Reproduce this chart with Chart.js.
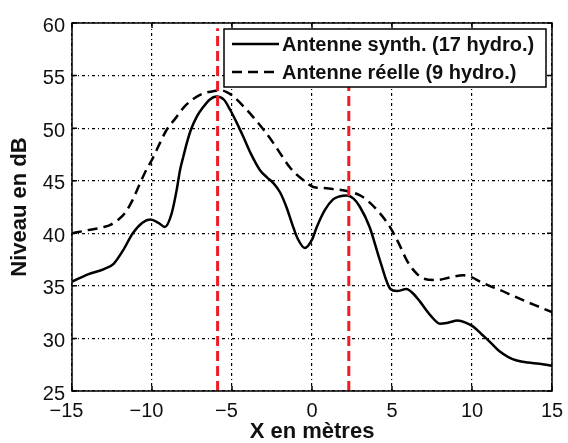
<!DOCTYPE html>
<html>
<head>
<meta charset="utf-8">
<script src="https://cdn.jsdelivr.net/npm/chart.js@4"></script>
<style>
  html, body { margin: 0; padding: 0; background: #fff; }
  #wrap { width: 568px; height: 443px; }
</style>
</head>
<body>
<div id="wrap"><canvas id="niveauChart" width="568" height="443"></canvas></div>
<script>
// Synthetic array (17 hydrophones)
const xSynth = [-15, -14, -13, -12.4, -11.8, -11.2, -10.6, -10.1, -9.6, -9.2, -8.77, -8.46, -8.25, -8.04, -7.83, -7.58, -7.2, -6.8, -6.4, -5.96,
  -5.5, -5.1, -4.7, -4.3, -3.8, -3.25, -2.8, -2.4, -2.0, -1.6, -1.2, -0.9, -0.45, 0, 0.3, 0.8, 1.3, 1.7, 2.17, 2.6, 3.0, 3.6,
  4.25, 4.9, 5.3, 5.9, 6.3, 6.75, 7.4, 8.0, 8.5, 9.1, 9.6, 10.1, 10.6, 11.1, 11.7, 12.3, 12.8, 13.5, 14.2, 15];
const ySynth = [35.4, 36.1, 36.6, 37.1, 38.4, 40.0, 41.0, 41.3, 41.0, 40.6, 41.9, 44.1, 46.0, 47.3, 48.55, 49.8, 51.1, 52.0, 52.7, 53.0,
  52.7, 51.7, 50.5, 49.2, 47.5, 46.0, 45.3, 44.75, 43.9, 42.5, 40.7, 39.5, 38.6, 39.4, 40.6, 42.2, 43.2, 43.5, 43.6, 43.3, 42.5, 40.6,
  37.4, 34.7, 34.5, 34.7, 34.3, 33.5, 32.2, 31.4, 31.5, 31.7, 31.5, 31.1, 30.4, 29.7, 28.8, 28.2, 27.9, 27.7, 27.6, 27.4];

// Real array (9 hydrophones)
const xReel = [-15, -14, -13, -12.6, -12.1, -11.7, -11.2, -10.75, -10.4, -10.0, -9.5, -9.1, -8.5, -8.0, -7.4, -6.8, -6.2, -5.7,
  -5.3, -4.9, -4.3, -3.7, -3.0, -2.4, -1.9, -1.4, -0.9, -0.54, 0.08, 0.7, 1.33, 1.9, 2.4, 3.0, 3.4, 4.25, 4.7, 5.1, 5.5, 5.9,
  6.4, 6.96, 7.8, 8.6, 9.46, 10.0, 10.5, 11.1, 11.75, 12.5, 13.4, 14.2, 15];
const yReel = [40.0, 40.3, 40.6, 40.8, 41.3, 41.9, 43.2, 44.75, 45.9, 47.0, 48.6, 49.8, 51.0, 52.0, 52.8, 53.3, 53.5, 53.6,
  53.4, 53.0, 52.1, 51.1, 49.8, 48.55, 47.4, 46.3, 45.5, 45.06, 44.4, 44.3, 44.2, 44.1, 43.95, 43.6, 43.2, 41.9, 41.0, 40.0, 38.8, 37.5,
  36.4, 35.7, 35.55, 35.8, 36.0, 35.8, 35.4, 35.0, 34.6, 34.1, 33.5, 33.0, 32.5];

// Vertical red markers
const markerX = [-5.9, 2.3];
const markerY = [25, 59.5];

const xMin = -15, xMax = 15, xStep = 5;
const yMin = 25, yMax = 60, yStep = 5;

const legendLabels = ['Antenne synth. (17 hydro.)', 'Antenne réelle (9 hydro.)'];

const pts = (xs, ys) => xs.map((x, i) => ({ x, y: ys[i] }));

const datasets = markerX.map((x) => ({
  label: 'marker',
  data: markerY.map((y) => ({ x, y })),
  borderColor: '#ee1c25',
  borderWidth: 3,
  borderDash: [10, 5],
  pointRadius: 0,
  order: 0,
  isMarker: true,
}));
datasets.push({
  label: legendLabels[0],
  data: pts(xSynth, ySynth),
  borderColor: '#000',
  borderWidth: 2.5,
  pointRadius: 0,
  cubicInterpolationMode: 'monotone',
  order: 2,
});
datasets.push({
  label: legendLabels[1],
  data: pts(xReel, yReel),
  borderColor: '#000',
  borderWidth: 2.5,
  borderDash: [10, 6],
  pointRadius: 0,
  cubicInterpolationMode: 'monotone',
  order: 1,
});

// Box around the plot with inward tick marks on all four sides
const framePlugin = {
  id: 'frame',
  afterDatasetsDraw(chart) {
    const { ctx, chartArea: a, scales } = chart;
    ctx.save();
    ctx.strokeStyle = '#000';
    ctx.lineWidth = 1.5;
    ctx.setLineDash([]);
    ctx.strokeRect(a.left, a.top, a.right - a.left, a.bottom - a.top);
    const tl = 5;
    ctx.beginPath();
    scales.x.ticks.forEach((t) => {
      const px = scales.x.getPixelForValue(t.value);
      ctx.moveTo(px, a.bottom); ctx.lineTo(px, a.bottom - tl);
      ctx.moveTo(px, a.top); ctx.lineTo(px, a.top + tl);
    });
    scales.y.ticks.forEach((t) => {
      const py = scales.y.getPixelForValue(t.value);
      ctx.moveTo(a.left, py); ctx.lineTo(a.left + tl, py);
      ctx.moveTo(a.right, py); ctx.lineTo(a.right - tl, py);
    });
    ctx.stroke();
    ctx.restore();
  },
};

// Boxed legend in the upper right corner
const boxLegend = {
  id: 'boxLegend',
  afterDraw(chart) {
    const { ctx } = chart;
    const items = chart.data.datasets.filter((d) => !d.isMarker);
    const left = 224, top = 29, w = 322, h = 58;
    ctx.save();
    ctx.fillStyle = '#fff';
    ctx.fillRect(left, top, w, h);
    ctx.strokeStyle = '#000';
    ctx.lineWidth = 1.5;
    ctx.setLineDash([]);
    ctx.strokeRect(left, top, w, h);
    ctx.font = 'bold 20px "Liberation Sans", Arial, sans-serif';
    ctx.textBaseline = 'middle';
    ctx.fillStyle = '#111';
    items.forEach((d, i) => {
      const y = top + 15 + i * 28;
      ctx.beginPath();
      ctx.lineWidth = d.borderWidth;
      ctx.setLineDash(d.borderDash || []);
      ctx.moveTo(left + 8, y);
      ctx.lineTo(left + 55, y);
      ctx.stroke();
      ctx.setLineDash([]);
      ctx.fillText(d.label, left + 58, y + 1);
    });
    ctx.restore();
  },
};

const tickFont = { family: '"Liberation Sans", Arial, sans-serif', size: 20 };
const titleFont = { family: '"Liberation Sans", Arial, sans-serif', size: 22, weight: 'bold', lineHeight: 1 };
const gridStyle = { color: '#000', lineWidth: 1.2, drawTicks: false };
const gridBorder = { display: false, dash: [3, 3, 1, 3] };

new Chart(document.getElementById('niveauChart').getContext('2d'), {
  type: 'line',
  data: { datasets },
  options: {
    responsive: false,
    animation: false,
    layout: { padding: { left: 0, top: 23, right: 16, bottom: 0 } },
    plugins: { legend: { display: false }, tooltip: { enabled: false } },
    scales: {
      x: {
        type: 'linear',
        min: xMin,
        max: xMax,
        grid: gridStyle,
        border: gridBorder,
        ticks: {
          stepSize: xStep,
          font: tickFont,
          color: '#111',
          padding: 8,
          maxRotation: 0,
          // digits stay centred on the tick, the minus sign hangs to the left
          callback: (v) => (v < 0 ? '\u2212' + Math.abs(v) + '\u2007' : String(v)),
        },
        title: {
          display: true,
          text: 'X en mètres',
          color: '#111',
          font: titleFont,
          padding: { top: 0, bottom: 0 },
        },
        afterFit: (scale) => {
          scale.height = 52;
          scale.paddingLeft = 0;
          scale.paddingRight = 0;
        },
      },
      y: {
        min: yMin,
        max: yMax,
        grid: gridStyle,
        border: gridBorder,
        ticks: {
          stepSize: yStep,
          font: tickFont,
          color: '#111',
          padding: 7,
          labelOffset: 3,
        },
        title: {
          display: true,
          text: 'Niveau en dB',
          color: '#111',
          font: titleFont,
          padding: { top: 9, bottom: 0 },
        },
        afterFit: (scale) => { scale.width = 72; },
      },
    },
  },
  plugins: [framePlugin, boxLegend],
});
</script>
</body>
</html>
